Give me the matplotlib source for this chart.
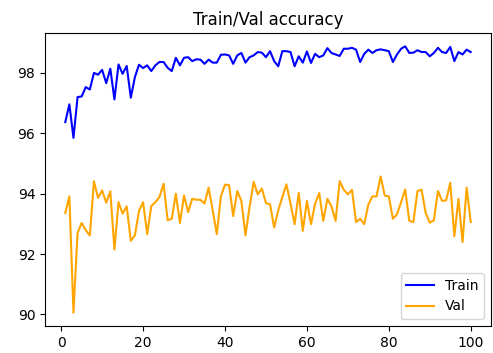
import numpy as np
import matplotlib
matplotlib.use('Agg')
import matplotlib.pyplot as plt


# エポック
epochs = list(range(1, 101))

# 学習データの精度
train_acc = [96.37, 96.96, 95.85, 97.20, 97.22, 97.53, 97.45, 98.00, 97.94, 98.10,
             97.66, 98.14, 97.12, 98.28, 97.97, 98.23, 97.18, 97.86, 98.27, 98.16,
             98.25, 98.06, 98.25, 98.36, 98.36, 98.17, 98.06, 98.50, 98.25, 98.50,
             98.52, 98.39, 98.45, 98.44, 98.30, 98.44, 98.34, 98.34, 98.60, 98.61,
             98.58, 98.30, 98.58, 98.66, 98.34, 98.52, 98.58, 98.69, 98.67, 98.52,
             98.72, 98.39, 98.22, 98.72, 98.72, 98.69, 98.22, 98.55, 98.34, 98.71,
             98.33, 98.63, 98.52, 98.58, 98.82, 98.66, 98.61, 98.56, 98.80, 98.80,
             98.83, 98.77, 98.36, 98.63, 98.77, 98.66, 98.75, 98.78, 98.75, 98.72,
             98.36, 98.61, 98.80, 98.88, 98.66, 98.67, 98.75, 98.69, 98.69, 98.55,
             98.66, 98.83, 98.69, 98.66, 98.86, 98.39, 98.69, 98.61, 98.77, 98.69]

# 検証データの精度
val_acc = [93.36, 93.91, 90.06, 92.70, 93.03, 92.79, 92.62, 94.41, 93.86, 94.11,
           93.70, 94.08, 92.15, 93.72, 93.34, 93.58, 92.44, 92.62, 93.43, 93.72,
           92.66, 93.59, 93.72, 93.89, 94.33, 93.12, 93.17, 94.00, 93.03, 93.94,
           93.39, 93.83, 93.80, 93.80, 93.67, 94.20, 93.45, 92.66, 93.91, 94.30,
           94.28, 93.26, 94.09, 93.76, 92.62, 93.56, 94.39, 93.98, 94.17, 93.69,
           93.65, 92.88, 93.45, 93.89, 94.31, 93.67, 92.99, 94.03, 92.77, 93.76,
           92.99, 93.67, 94.02, 93.10, 93.83, 93.58, 93.10, 94.42, 94.13, 93.98,
           94.13, 93.06, 93.17, 92.99, 93.64, 93.91, 93.91, 94.57, 93.94, 93.91,
           93.17, 93.32, 93.72, 94.14, 93.10, 93.06, 94.09, 94.13, 93.36, 93.04,
           93.12, 94.09, 93.76, 93.78, 94.36, 92.59, 93.83, 92.40, 94.20, 93.06]


fig = plt.figure(figsize=(4.93, 3.53), dpi=100)
ax = fig.add_axes([45 / 493, 1 - 326 / 353, 446 / 493, 293 / 353])

ax.plot(epochs, train_acc, color='blue', label='Train')
ax.plot(epochs, val_acc, color='orange', label='Val')
ax.legend(loc='lower right')

ax.set_title('Train/Val accuracy')

plt.savefig('out.png', dpi=100)
plt.close()
